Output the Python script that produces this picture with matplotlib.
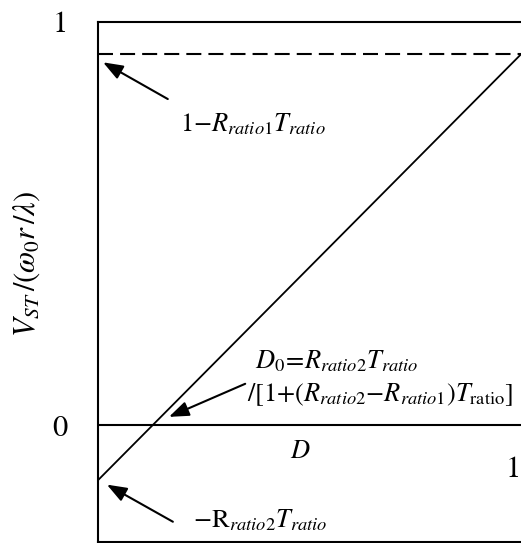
import matplotlib.pyplot as plt

plt.rcParams['mathtext.fontset'] = 'stix'
plt.rcParams['font.family'] = 'STIXGeneral'

# normalised duty cycle and the two end values of the output line
D = [0.0, 1.0]
r1t = 0.08     # R_ratio1 * T_ratio
r2t = 0.136    # R_ratio2 * T_ratio
V = [-r2t, 1 - r1t]
d0 = r2t / (1 + r2t - r1t)

ytick_pos = [0, 1]
ytick_lab = ['0', '1']

fig = plt.figure(figsize=(5.21, 5.43), dpi=100)
ax = fig.add_axes([98 / 521, 1.5 / 543, 1 - 98 / 521, (543 - 22 - 1.5) / 543])

ax.plot(D, V, color='black', lw=1.3)
ax.axhline(1 - r1t, color='black', lw=1.5, dashes=(7.2, 3.4))
ax.axhline(0, color='black', lw=1.5)

ax.set_xlim(0, 1)
ax.set_ylim(-0.288, 1)
ax.spines['right'].set_visible(False)
for s in ['left', 'top', 'bottom']:
    ax.spines[s].set_linewidth(1.5)

ax.set_xticks([])
ax.set_yticks(ytick_pos)
ax.set_yticklabels(ytick_lab, fontsize=22)
ax.tick_params(axis='y', length=0, pad=22)
ax.get_yticklabels()[0].set_y(-0.01)

# x axis labels sit just under the zero line
ax.text(0.478, -0.065, r'$D$', fontsize=19, ha='center', va='center')
ax.text(0.981, -0.11, '1', fontsize=22, ha='center', va='center')
fig.text(27 / 521, 1 - 264 / 543, r'$V_{ST}\,/(\omega_0 r\,/\lambda)$',
         rotation=90, fontsize=22, ha='center', va='center')

arrow = dict(arrowstyle='-|>,head_length=0.8,head_width=0.3', color='black',
             lw=1.5, shrinkA=0, shrinkB=0, mutation_scale=15)

fs = 19
ax.annotate('', xy=(0.012, 1 - r1t - 0.02), xytext=(0.165, 0.809), arrowprops=arrow)
ax.text(0.194, 0.745, r'$1{-}R_{ratio1}T_{ratio}$', fontsize=fs, ha='left', va='center')

ax.annotate('', xy=(d0 + 0.039, 0.021), xytext=(0.348, 0.103), arrowprops=arrow)
ax.text(0.371, 0.158, r'$D_0\!{=}\!R_{ratio2}T_{ratio}$', fontsize=fs, ha='left', va='center')
ax.text(0.352, 0.076, r'$/[1{+}(R_{ratio2}{-}R_{ratio1})T_{\mathrm{ratio}}]$',
        fontsize=fs, ha='left', va='center')

ax.annotate('', xy=(0.021, -r2t - 0.011), xytext=(0.177, -0.239), arrowprops=arrow)
ax.text(0.225, -0.236, r'$-\mathrm{R}_{ratio2}T_{ratio}$', fontsize=fs, ha='left', va='center')

fig.savefig('out.png', dpi=100)
